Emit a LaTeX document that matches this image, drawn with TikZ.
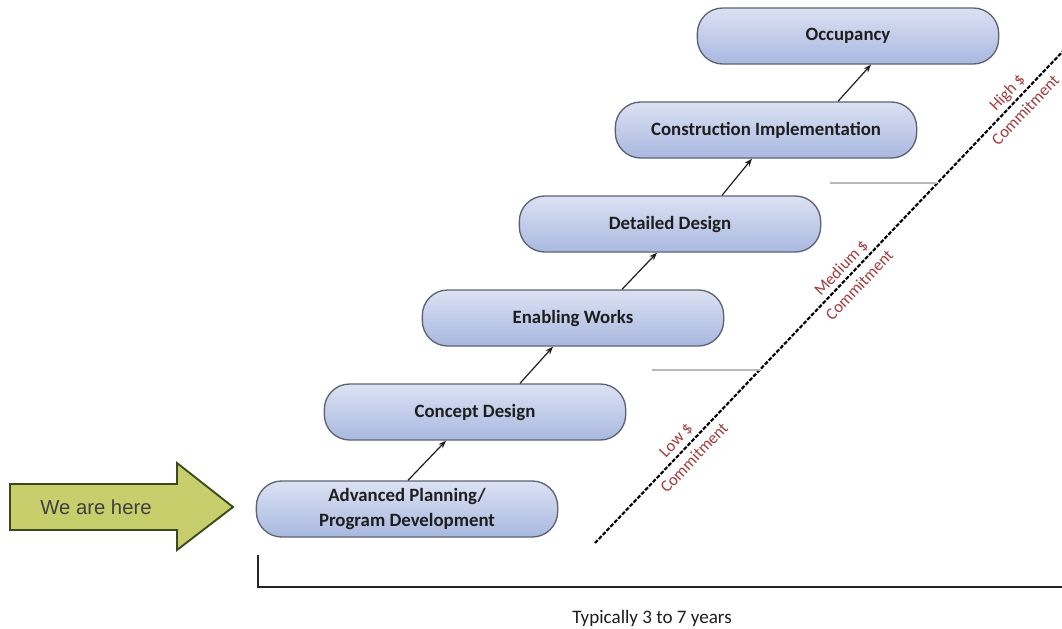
\documentclass[tikz,border=0pt]{standalone}
\usepackage{fontspec}
\setmainfont{Carlito}
\newfontfamily\arialfont{Liberation Sans}
\usetikzlibrary{arrows.meta,calc}
\definecolor{boxtop}{HTML}{DCE2F3}
\definecolor{boxbot}{HTML}{A9B8E0}
\definecolor{boxline}{HTML}{5E6374}
\definecolor{txt}{HTML}{1E1E1E}
\definecolor{commit}{HTML}{A33A3C}
\definecolor{herefill}{HTML}{C8CE6C}
\definecolor{hereline}{HTML}{3A4A1C}
\tikzset{
  stage/.style={draw=boxline, line width=1pt, rounded corners=19pt,
    top color=boxtop, bottom color=boxbot, minimum width=226pt, minimum height=42pt,
    inner sep=0pt, text=txt, font=\bfseries\fontsize{14.1}{18.5}\selectfont, align=center},
  link/.style={-{Stealth[length=6pt,width=4.5pt]}, line width=0.9pt, draw=txt},
  commitlbl/.style={text=commit, rotate=46.4, align=center, font=\fontsize{12.5}{19}\selectfont, inner sep=0pt},
  divider/.style={draw=gray!55, line width=1pt},
}
\begin{document}
\begin{tikzpicture}[x=0.75pt,y=-0.75pt]
\useasboundingbox[fill=white] (0,0) rectangle (1062,628);
% stages
\node[stage] (adv) at (407,509) {Advanced Planning/\\Program Development};
\node[stage] (concept) at (475,412) {Concept Design};
\node[stage] (enabling) at (573,318) {Enabling Works};
\node[stage] (detailed) at (670,224) {Detailed Design};
\node[stage] (constr) at (766,130) {Construction Implementation};
\node[stage] (occ) at (848,36) {Occupancy};
% links
\draw[link] ($(adv.north)+(1,0)$) -- ($(concept.south)+(-29,0)$);
\draw[link] ($(concept.north)+(45,0)$) -- ($(enabling.south)+(-20,0)$);
\draw[link] ($(enabling.north)+(49,0)$) -- ($(detailed.south)+(-13,0)$);
\draw[link] ($(detailed.north)+(52,0)$) -- ($(constr.south)+(-14,0)$);
\draw[link] ($(constr.north)+(72,0)$) -- ($(occ.south)+(23,0)$);
% dashed commitment line
\coordinate (dlow) at (595,543);
\coordinate (dhigh) at (1066,48);
\draw[line width=1.6pt, dash pattern=on 3pt off 1.2pt] (dlow) -- (dhigh);
\draw[divider] (652,370) -- (760,370);
\draw[divider] (830,183) -- (937,183);
\node[commitlbl] (low) at (685,449) {Low \$\\Commitment};
\node[commitlbl] (med) at (850,276) {Medium \$\\Commitment};
\node[commitlbl] (high) at (1016,101) {High \$\\Commitment};
% we are here arrow
\draw[fill=herefill, draw=hereline, line width=1.4pt]
  (10,484) -- (177,484) -- (177,463) -- (233,507) -- (177,550) -- (177,530) -- (10,530) -- cycle;
\node[inner sep=0pt, text=txt!85] (herelbl) at (96,507) {\arialfont\fontsize{15.2}{17}\selectfont We are here};
% timeline bracket
\coordinate (bt) at (258,555);
\coordinate (bc) at (258,587);
\coordinate (br) at (1062,587);
\draw[line width=1.8pt, draw=black!85] (bt) -- (bc) -- (br);
\node[font=\fontsize{14.3}{16}\selectfont, text=txt] (years) at (652,618) {Typically 3 to 7 years};
\end{tikzpicture}
\end{document}
